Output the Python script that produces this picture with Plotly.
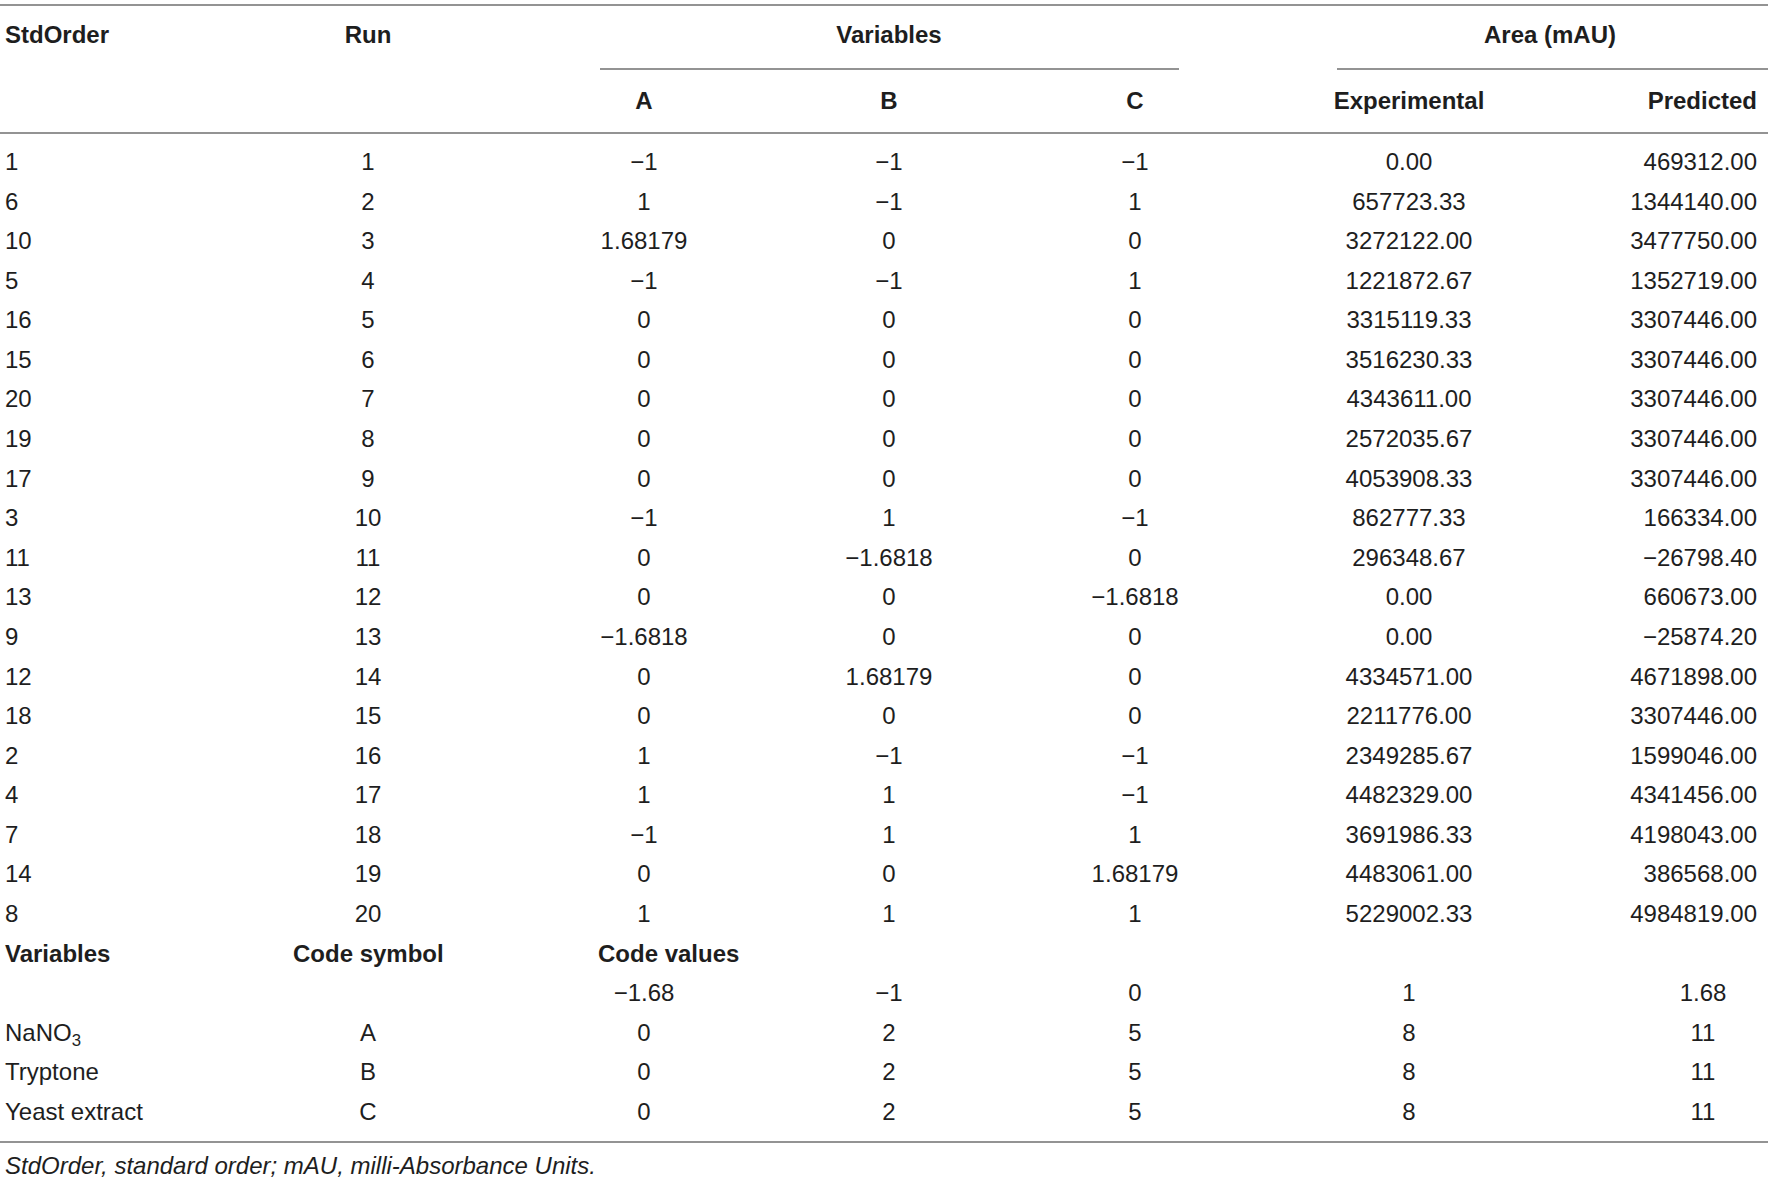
import plotly.graph_objects as go

std_order = [1, 6, 10, 5, 16, 15, 20, 19, 17, 3, 11, 13, 9, 12, 18, 2, 4, 7, 14, 8]
run = [1, 2, 3, 4, 5, 6, 7, 8, 9, 10, 11, 12, 13, 14, 15, 16, 17, 18, 19, 20]
var_a = [-1, 1, 1.68179, -1, 0, 0, 0, 0, 0, -1, 0, 0, -1.6818, 0, 0, 1, 1, -1, 0, 1]
var_b = [-1, -1, 0, -1, 0, 0, 0, 0, 0, 1, -1.6818, 0, 0, 1.68179, 0, -1, 1, 1, 0, 1]
var_c = [-1, 1, 0, 1, 0, 0, 0, 0, 0, -1, 0, -1.6818, 0, 0, 0, -1, -1, 1, 1.68179, 1]
area_exp = [0.00, 657723.33, 3272122.00, 1221872.67, 3315119.33, 3516230.33,
            4343611.00, 2572035.67, 4053908.33, 862777.33, 296348.67, 0.00,
            0.00, 4334571.00, 2211776.00, 2349285.67, 4482329.00, 3691986.33,
            4483061.00, 5229002.33]
area_pred = [469312.00, 1344140.00, 3477750.00, 1352719.00, 3307446.00,
             3307446.00, 3307446.00, 3307446.00, 3307446.00, 166334.00,
             -26798.40, 660673.00, -25874.20, 4671898.00, 3307446.00,
             1599046.00, 4341456.00, 4198043.00, 386568.00, 4984819.00]

code_levels = [-1.68, -1, 0, 1, 1.68]
factor_names = ["NaNO<sub>3</sub>", "Tryptone", "Yeast extract"]
factor_symbols = ["A", "B", "C"]
factor_values = [
    [0, 2, 5, 8, 11],
    [0, 2, 5, 8, 11],
    [0, 2, 5, 8, 11],
]
footnote = "StdOrder, standard order; mAU, milli-Absorbance Units."

# ---- layout constants (pixels across, row units down) ----
W, H = 1772, 1181
ROW0_PX, ROW_H = 164, 39.58
X_LEFT = 5
X_RUN, X_A, X_B, X_C, X_EXP = 368, 644, 889, 1135, 1409
X_PRED_R, X_PRED_M = 1757, 1703
X_SYM_HDR, X_VAL_HDR = 293, 598
X_AREA = 1550
FONT = "Liberation Sans"
TXT = "#1e1e1e"
LINE = "#939393"
SIZE = 24


def px_to_row(p):
    return (p - ROW0_PX) / ROW_H


def fmt(v):
    s = repr(v) if isinstance(v, float) else str(v)
    return s.replace("-", "\u2212")


def fmt2(v):
    return f"{v:.2f}".replace("-", "\u2212")


n = len(std_order)
rows = list(range(n))
fig = go.Figure()


def add_col(x, y, text, pos, size=SIZE):
    fig.add_trace(go.Scatter(
        x=[x] * len(text), y=y, text=text, mode="text",
        textposition=pos, hoverinfo="skip", showlegend=False,
        cliponaxis=False,
        textfont=dict(family=FONT, size=size, color=TXT),
    ))


# header rows
h1 = px_to_row(37)
h2 = px_to_row(103)
add_col(X_LEFT, [h1], ["<b>StdOrder</b>"], "middle right")
add_col(X_RUN, [h1], ["<b>Run</b>"], "middle center")
add_col(X_B, [h1], ["<b>Variables</b>"], "middle center")
add_col(X_AREA, [h1], ["<b>Area (mAU)</b>"], "middle center")
add_col(X_A, [h2], ["<b>A</b>"], "middle center")
add_col(X_B, [h2], ["<b>B</b>"], "middle center")
add_col(X_C, [h2], ["<b>C</b>"], "middle center")
add_col(X_EXP, [h2], ["<b>Experimental</b>"], "middle center")
add_col(X_PRED_R, [h2], ["<b>Predicted</b>"], "middle left")

# design rows
add_col(X_LEFT, rows, [str(v) for v in std_order], "middle right")
add_col(X_RUN, rows, [str(v) for v in run], "middle center")
add_col(X_A, rows, [fmt(v) for v in var_a], "middle center")
add_col(X_B, rows, [fmt(v) for v in var_b], "middle center")
add_col(X_C, rows, [fmt(v) for v in var_c], "middle center")
add_col(X_EXP, rows, [fmt2(v) for v in area_exp], "middle center")
add_col(X_PRED_R, rows, [fmt2(v) for v in area_pred], "middle left")

# code values section
r_hdr = n
r_lvl = n + 1
r_fac = [n + 2 + i for i in range(len(factor_names))]
add_col(X_LEFT, [r_hdr], ["<b>Variables</b>"], "middle right")
add_col(X_SYM_HDR, [r_hdr], ["<b>Code symbol</b>"], "middle right")
add_col(X_VAL_HDR, [r_hdr], ["<b>Code values</b>"], "middle right")
add_col(X_LEFT, r_fac, factor_names, "middle right")
add_col(X_RUN, r_fac, factor_symbols, "middle center")
lvl_x = [X_A, X_B, X_C, X_EXP, X_PRED_M]
for j, x in enumerate(lvl_x):
    add_col(x, [r_lvl] + r_fac,
            [fmt(code_levels[j])] + [str(fv[j]) for fv in factor_values],
            "middle center")

# footnote
add_col(X_LEFT, [px_to_row(1168)], [f"<i>{footnote}</i>"], "middle right")


# rules
def hline(x0, x1, ypx):
    fig.add_shape(type="line", x0=x0, x1=x1, y0=px_to_row(ypx), y1=px_to_row(ypx),
                  xref="x", yref="y", line=dict(color=LINE, width=2))


hline(0, 1768, 5)
hline(600, 1179, 69)
hline(1337, 1768, 69)
hline(0, 1768, 133)
hline(0, 1768, 1142)

fig.update_layout(
    width=W, height=H,
    margin=dict(l=0, r=0, t=0, b=0),
    paper_bgcolor="white", plot_bgcolor="white",
    xaxis=dict(range=[0, W], visible=False, fixedrange=True),
    yaxis=dict(range=[px_to_row(H), px_to_row(0)], visible=False, fixedrange=True),
)

# drop the default 8px body margin so the figure sits at the page corner
fig.write_html("out.html", config={"displayModeBar": False},
               post_script="document.body.style.margin='0px';")
